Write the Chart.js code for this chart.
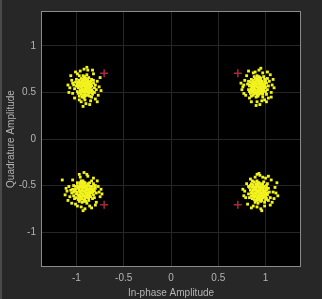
<!DOCTYPE html>
<html>
<head>
<meta charset="utf-8">
<script src="https://cdn.jsdelivr.net/npm/chart.js@4"></script>
<style>
  html, body { margin: 0; padding: 0; background: #262626; }
  canvas { display: block; }
</style>
</head>
<body>
<canvas id="c" width="322" height="299"></canvas>
<script>
// received symbols, one list per constellation point (I, Q)
const clusterUL = [
  [-0.91,0.56],[-0.88,0.58],[-0.94,0.54],[-0.90,0.61],[-0.86,0.53],[-0.96,0.59],[-0.92,0.50],[-0.84,0.57],[-0.98,0.55],[-0.89,0.64],
  [-0.93,0.62],[-0.87,0.49],[-0.95,0.48],[-0.82,0.60],[-1.00,0.57],[-0.91,0.53],[-0.85,0.62],[-0.97,0.63],[-0.90,0.47],[-0.88,0.55],
  [-0.93,0.58],[-0.86,0.59],[-0.99,0.51],[-0.83,0.51],[-0.92,0.66],[-0.89,0.52],[-0.94,0.51],[-0.87,0.66],[-1.01,0.61],[-0.81,0.55],
  [-0.96,0.53],[-0.90,0.58],[-0.85,0.56],[-0.92,0.44],[-0.88,0.61],[-0.95,0.65],[-0.84,0.64],[-1.02,0.54],[-0.80,0.58],[-0.91,0.49],
  [-0.97,0.46],[-0.86,0.46],[-0.93,0.68],[-0.89,0.69],[-0.99,0.59],[-0.83,0.48],[-0.94,0.57],[-0.87,0.52],[-0.91,0.63],[-0.96,0.61],
  [-0.85,0.50],[-0.90,0.55],[-1.03,0.58],[-0.79,0.53],[-0.92,0.60],[-0.88,0.47],[-0.98,0.49],[-0.82,0.63],[-0.95,0.56],[-0.86,0.61],
  [-0.93,0.47],[-0.89,0.59],[-1.00,0.64],[-0.84,0.45],[-0.97,0.68],[-0.81,0.50],[-0.91,0.67],[-0.94,0.45],[-0.87,0.57],[-0.90,0.51],
  [-0.92,0.57],[-0.89,0.56],[-0.93,0.53],[-0.87,0.55],[-0.95,0.60],[-0.90,0.53],[-0.88,0.63],[-0.94,0.60],[-0.91,0.59],[-0.86,0.57],
  [-0.97,0.57],[-0.92,0.52],[-0.89,0.61],[-0.95,0.52],[-0.88,0.50],[-0.93,0.64],[-0.90,0.65],[-0.85,0.59],[-0.98,0.61],[-0.96,0.50],
  [-0.84,0.53],[-0.91,0.46],[-0.87,0.61],[-0.94,0.62],[-0.99,0.57],
  [-1.07,0.55],[-1.05,0.63],[-1.04,0.49],[-0.76,0.56],[-0.78,0.62],[-0.77,0.47],[-0.92,0.75],[-0.96,0.73],[-0.88,0.74],[-0.90,0.38],
  [-0.95,0.40],[-0.85,0.41],[-1.09,0.58],[-0.74,0.52],[-0.99,0.70],[-0.82,0.70],[-1.02,0.44],[-0.80,0.43],[-0.93,0.35],[-0.89,0.77],
  [-1.06,0.68],[-0.75,0.66],[-1.08,0.50],[-0.86,0.37],[-0.97,0.42],[-0.83,0.74],[-1.01,0.72],[-0.78,0.40],[-0.91,0.42],[-1.04,0.60]
];
const clusterUR = [
  [0.92,0.55],[0.95,0.57],[0.89,0.53],[0.93,0.60],[0.87,0.58],[0.98,0.52],[0.90,0.49],[0.96,0.62],[0.85,0.54],[1.00,0.56],
  [0.91,0.63],[0.94,0.50],[0.88,0.61],[0.97,0.48],[0.83,0.57],[1.01,0.60],[0.92,0.46],[0.86,0.50],[0.99,0.64],[0.93,0.53],
  [0.90,0.57],[0.95,0.54],[0.84,0.61],[1.02,0.53],[0.89,0.65],[0.96,0.58],[0.87,0.47],[0.94,0.66],[0.91,0.51],[0.98,0.59],
  [0.82,0.53],[1.03,0.57],[0.92,0.59],[0.88,0.56],[0.97,0.45],[0.85,0.64],[0.93,0.48],[1.00,0.51],[0.90,0.62],[0.86,0.55],
  [0.95,0.65],[0.89,0.50],[0.99,0.55],[0.84,0.49],[0.94,0.58],[0.91,0.68],[1.04,0.62],[0.81,0.59],[0.96,0.51],[0.87,0.63],
  [0.92,0.52],[0.98,0.67],[0.83,0.51],[0.90,0.45],[1.01,0.48],[0.94,0.62],[0.88,0.67],[0.97,0.55],[0.86,0.60],[0.93,0.56],
  [0.91,0.47],[1.02,0.65],[0.85,0.46],[0.95,0.49],[0.89,0.58],[0.99,0.61],[0.82,0.62],[0.92,0.64],[0.96,0.53],[0.87,0.52],
  [0.91,0.56],[0.94,0.55],[0.88,0.54],[0.92,0.62],[0.96,0.60],[0.90,0.52],[0.97,0.57],[0.86,0.57],[0.93,0.51],[0.89,0.60],
  [0.95,0.52],[0.99,0.58],[0.91,0.65],[0.87,0.61],[0.94,0.63],[0.97,0.50],[0.88,0.49],[1.00,0.62],[0.85,0.52],[0.92,0.49],
  [0.98,0.54],[0.90,0.59],[0.84,0.58],[0.95,0.60],[0.93,0.67],
  [0.76,0.56],[0.78,0.63],[0.77,0.49],[1.07,0.58],[1.06,0.50],[1.08,0.64],[0.93,0.74],[0.89,0.72],[0.97,0.71],[0.91,0.40],
  [0.85,0.40],[0.99,0.42],[0.74,0.60],[1.05,0.69],[0.80,0.68],[0.83,0.44],[1.03,0.44],[0.94,0.37],[0.95,0.76],[0.79,0.47],
  [1.09,0.55],[0.87,0.71],[1.01,0.40],[0.96,0.41],[0.75,0.53],[1.06,0.45],[0.82,0.73],[0.90,0.36],[1.02,0.72],[0.77,0.58]
];
const clusterLL = [
  [-0.92,-0.56],[-0.89,-0.54],[-0.95,-0.58],[-0.90,-0.61],[-0.86,-0.57],[-0.98,-0.53],[-0.93,-0.50],[-0.84,-0.55],[-1.00,-0.59],[-0.88,-0.63],
  [-0.94,-0.64],[-0.87,-0.50],[-0.96,-0.49],[-0.82,-0.60],[-1.02,-0.56],[-0.91,-0.52],[-0.85,-0.62],[-0.97,-0.62],[-0.91,-0.47],[-0.88,-0.58],
  [-0.93,-0.59],[-0.86,-0.53],[-1.01,-0.51],[-0.83,-0.51],[-0.92,-0.66],[-0.90,-0.55],[-0.95,-0.52],[-0.87,-0.66],[-1.03,-0.61],[-0.81,-0.56],
  [-0.97,-0.55],[-0.90,-0.58],[-0.84,-0.58],[-0.93,-0.45],[-0.88,-0.60],[-0.96,-0.65],[-0.83,-0.64],[-1.04,-0.54],[-0.79,-0.58],[-0.92,-0.49],
  [-0.99,-0.47],[-0.86,-0.47],[-0.94,-0.68],[-0.89,-0.69],[-1.00,-0.63],[-0.82,-0.48],[-0.95,-0.56],[-0.87,-0.54],[-0.91,-0.63],[-0.98,-0.60],
  [-0.85,-0.51],[-0.90,-0.53],[-1.05,-0.58],[-0.80,-0.53],[-0.93,-0.61],[-0.88,-0.48],[-0.99,-0.50],[-0.81,-0.63],[-0.96,-0.57],[-0.86,-0.61],
  [-0.94,-0.47],[-0.89,-0.59],[-1.02,-0.64],[-0.84,-0.45],[-0.97,-0.67],[-0.80,-0.50],[-0.92,-0.67],[-0.95,-0.45],[-0.87,-0.57],[-0.91,-0.51],
  [-0.91,-0.57],[-0.94,-0.55],[-0.88,-0.55],[-0.92,-0.61],[-0.96,-0.60],[-0.90,-0.50],[-0.97,-0.52],[-0.86,-0.59],[-0.93,-0.53],[-0.89,-0.62],
  [-0.99,-0.57],[-0.85,-0.54],[-0.91,-0.65],[-0.95,-0.62],[-0.87,-0.63],[-1.01,-0.54],[-0.92,-0.47],[-0.83,-0.57],[-0.98,-0.65],[-0.94,-0.50],
  [-0.89,-0.51],[-1.03,-0.57],[-0.82,-0.54],[-0.90,-0.67],[-0.96,-0.47],
  [-1.06,-0.55],[-1.03,-0.50],[-1.10,-0.56],[-1.12,-0.60],[-1.08,-0.51],[-1.15,-0.44],[-0.76,-0.57],[-0.75,-0.62],[-0.77,-0.51],[-0.92,-0.36],
  [-0.88,-0.40],[-0.96,-0.41],[-0.91,-0.75],[-0.95,-0.73],[-0.86,-0.72],[-0.73,-0.59],[-1.09,-0.66],[-0.79,-0.68],[-1.04,-0.44],[-0.82,-0.42],
  [-0.93,-0.77],[-0.99,-0.72],[-1.07,-0.62],[-0.74,-0.54],[-0.89,-0.38],[-1.01,-0.70],[-0.84,-0.74],[-1.11,-0.53],[-0.78,-0.45],[-0.97,-0.38],
  [-0.80,-0.71],[-1.05,-0.69]
];
const clusterLR = [
  [0.93,-0.56],[0.96,-0.54],[0.90,-0.58],[0.94,-0.61],[0.88,-0.53],[0.99,-0.59],[0.91,-0.50],[0.97,-0.63],[0.86,-0.57],[1.01,-0.55],
  [0.92,-0.64],[0.95,-0.49],[0.89,-0.62],[0.98,-0.51],[0.84,-0.55],[1.02,-0.60],[0.93,-0.47],[0.87,-0.49],[1.00,-0.65],[0.94,-0.52],
  [0.91,-0.57],[0.96,-0.59],[0.85,-0.61],[1.03,-0.53],[0.90,-0.66],[0.97,-0.56],[0.88,-0.46],[0.95,-0.67],[0.92,-0.51],[0.99,-0.62],
  [0.83,-0.52],[1.04,-0.57],[0.93,-0.60],[0.89,-0.55],[0.98,-0.46],[0.86,-0.64],[0.94,-0.48],[1.01,-0.50],[0.91,-0.63],[0.87,-0.59],
  [0.96,-0.66],[0.90,-0.51],[1.00,-0.58],[0.85,-0.48],[0.95,-0.58],[0.92,-0.69],[1.05,-0.63],[0.82,-0.59],[0.97,-0.52],[0.88,-0.65],
  [0.93,-0.53],[0.99,-0.68],[0.84,-0.50],[0.91,-0.45],[1.02,-0.48],[0.95,-0.63],[0.89,-0.68],[0.98,-0.56],[0.87,-0.61],[0.94,-0.57],
  [0.92,-0.47],[1.03,-0.66],[0.86,-0.45],[0.96,-0.50],[0.90,-0.60],[1.00,-0.62],[0.83,-0.63],[0.93,-0.65],[0.97,-0.54],[0.88,-0.52],
  [0.94,-0.55],[0.91,-0.55],[0.97,-0.58],[0.92,-0.61],[0.89,-0.58],[0.95,-0.52],[0.98,-0.61],[0.90,-0.53],[0.93,-0.63],[1.00,-0.53],
  [0.87,-0.55],[0.96,-0.64],[0.92,-0.49],[0.99,-0.56],[0.88,-0.62],[0.94,-0.66],[0.85,-0.58],[1.02,-0.58],[0.90,-0.48],[0.97,-0.48],
  [0.91,-0.66],[1.01,-0.64],[0.86,-0.52],[0.93,-0.58],[0.96,-0.61],
  [0.78,-0.56],[0.79,-0.63],[0.80,-0.48],[1.08,-0.57],[1.10,-0.52],[1.13,-0.61],[1.12,-0.47],[0.95,-0.75],[0.91,-0.73],[0.99,-0.72],
  [0.94,-0.39],[0.89,-0.41],[1.00,-0.42],[0.77,-0.61],[1.07,-0.68],[0.81,-0.70],[0.84,-0.43],[1.06,-0.44],[0.93,-0.37],[0.96,-0.77],
  [0.82,-0.51],[1.09,-0.64],[0.87,-0.72],[1.03,-0.40],[0.97,-0.41],[0.76,-0.54],[1.05,-0.71],[0.85,-0.74],[0.91,-0.38],[1.11,-0.58]
];
// reference constellation (QPSK)
const refI = [-0.707, 0.707, -0.707, 0.707];
const refQ = [0.707, 0.707, -0.707, -0.707];
const tickValues = [-1, -0.5, 0, 0.5, 1];
const axisLimit = 1.375;

const received = [clusterUL, clusterUR, clusterLL, clusterLR]
  .flat()
  .map(([x, y]) => ({ x, y }));
const reference = refI.map((x, i) => ({ x, y: refQ[i] }));

const framePlugin = {
  id: 'frame',
  beforeDraw(chart) {
    const { ctx, chartArea: a } = chart;
    ctx.save();
    ctx.fillStyle = '#272727';
    ctx.fillRect(0, 0, chart.width, chart.height);
    ctx.fillStyle = '#4a4a4a';
    ctx.fillRect(0, 0, 2, chart.height);
    ctx.fillStyle = '#000';
    ctx.fillRect(a.left, a.top, a.right - a.left, a.bottom - a.top);
    ctx.restore();
  },
  afterDraw(chart) {
    const { ctx, chartArea: a } = chart;
    ctx.save();
    ctx.strokeStyle = '#8a8a8a';
    ctx.lineWidth = 1;
    ctx.strokeRect(a.left + 0.5, a.top + 0.5, a.right - a.left - 1, a.bottom - a.top - 1);
    ctx.restore();
  }
};

const tickFont = { family: 'Liberation Sans, Arial, sans-serif', size: 10 };
const titleFont = { family: 'Liberation Sans, Arial, sans-serif', size: 10 };
const fixTicks = (scale) => { scale.ticks = tickValues.map(v => ({ value: v })); };
const tickLabel = (v) => String(v);

new Chart(document.getElementById('c'), {
  type: 'scatter',
  data: {
    datasets: [
      {
        label: 'Received',
        data: received,
        pointStyle: 'rect',
        pointRadius: 2,
        pointBorderWidth: 0,
        backgroundColor: '#f2f21e',
        borderColor: '#f2f21e',
        order: 2,
      },
      {
        label: 'Reference',
        data: reference,
        pointStyle: 'cross',
        pointRadius: 4,
        pointBorderWidth: 1.5,
        borderColor: '#a82a3a',
        backgroundColor: '#a82a3a',
        order: 1,
      },
    ],
  },
  options: {
    responsive: false,
    animation: false,
    layout: { padding: { left: 0, top: 8, right: 21, bottom: 0 } },
    plugins: { legend: { display: false }, tooltip: { enabled: false } },
    scales: {
      x: {
        min: -axisLimit,
        max: axisLimit,
        afterBuildTicks: fixTicks,
        afterFit: (s) => { s.height = 32; },
        grid: { color: '#262626', drawTicks: false },
        border: { display: false },
        ticks: { color: '#b4b4b4', font: tickFont, padding: 5, maxRotation: 0, callback: tickLabel },
        title: { display: true, text: 'In-phase Amplitude', color: '#b4b4b4', font: titleFont, padding: 0 },
      },
      y: {
        min: -axisLimit,
        max: axisLimit,
        afterBuildTicks: fixTicks,
        afterFit: (s) => { s.width = 41; },
        grid: { color: '#262626', drawTicks: false },
        border: { display: false },
        ticks: { color: '#b4b4b4', font: tickFont, padding: 5, callback: tickLabel },
        title: { display: true, text: 'Quadrature Amplitude', color: '#b4b4b4', font: titleFont, padding: 5 },
      },
    },
  },
  plugins: [framePlugin],
});
</script>
</body>
</html>
